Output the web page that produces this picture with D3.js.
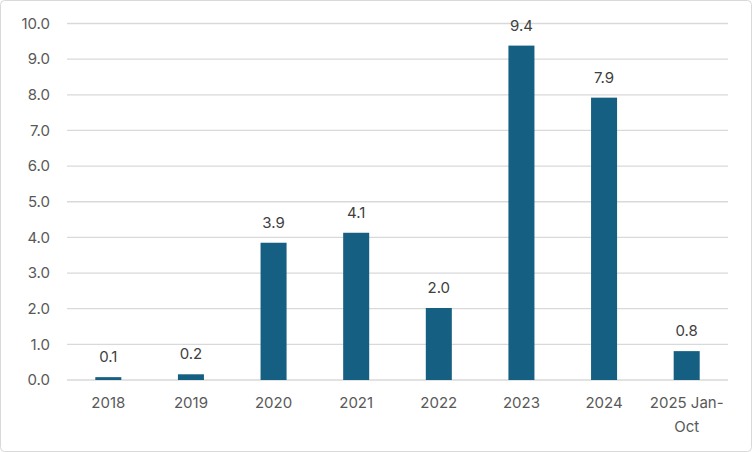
<!DOCTYPE html>
<html>
<head>
<meta charset="utf-8">
<script src="https://cdn.jsdelivr.net/npm/d3@7"></script>
<style>
  body { margin: 0; background: #fff; }
  svg { display: block; font-family: Inter, "Open Sans", sans-serif; }
</style>
</head>
<body>
<script>
// values (labels show one decimal)
const categories = ["2018", "2019", "2020", "2021", "2022", "2023", "2024", "2025 Jan-Oct"];
const values = [0.08, 0.16, 3.85, 4.13, 2.02, 9.38, 7.92, 0.81];
const yTicks = [0, 1, 2, 3, 4, 5, 6, 7, 8, 9, 10];

const W = 752, H = 452;
const margin = { top: 23.5, right: 24, bottom: 72, left: 67 };
const width = W - margin.left - margin.right,
    height = H - margin.top - margin.bottom;

const svg = d3.select("body").append("svg")
    .attr("width", W)
    .attr("height", H);

svg.append("rect")
    .attr("x", 0.5).attr("y", 0.5)
    .attr("width", W - 1).attr("height", H - 1)
    .attr("rx", 4)
    .attr("fill", "#fff")
    .attr("stroke", "#d9d9d9");

const g = svg.append("g")
    .attr("transform", "translate(" + margin.left + "," + margin.top + ")");

const x = d3.scaleBand()
    .domain(categories)
    .range([0, width])
    .paddingInner(0.685)
    .paddingOuter(0.3425);

const y = d3.scaleLinear()
    .domain([0, 10])
    .range([height, 0]);

// gridlines
g.append("g")
    .selectAll("line")
    .data(yTicks)
    .enter()
    .append("line")
    .attr("x1", 0).attr("x2", width)
    .attr("y1", d => y(d)).attr("y2", d => y(d))
    .attr("stroke", "#d9d9d9")
    .attr("stroke-width", 1.3);

// y axis labels
const yAxis = g.append("g")
    .call(d3.axisLeft(y).tickValues(yTicks).tickFormat(d3.format(".1f")).tickSize(0).tickPadding(17));
yAxis.select(".domain").remove();
yAxis.selectAll("text")
    .attr("fill", "#595959")
    .style("font-size", "15px")
    .style("font-family", "Inter, 'Open Sans', sans-serif");

// x axis labels
const xAxis = g.append("g")
    .attr("transform", "translate(0," + height + ")")
    .call(d3.axisBottom(x).tickSize(0).tickPadding(17));
xAxis.select(".domain").remove();
xAxis.selectAll("text")
    .attr("fill", "#595959")
    .style("font-size", "15px")
    .style("font-family", "Inter, 'Open Sans', sans-serif")
    .each(function (d) {
        if (d === "2025 Jan-Oct") {
            const t = d3.select(this).text(null);
            t.append("tspan").attr("x", 0).attr("dy", "0.71em").text("2025 Jan-");
            t.append("tspan").attr("x", 0).attr("dy", "1.6em").text("Oct");
            t.attr("dy", null);
        }
    });

// bars
g.selectAll(".bar")
    .data(values)
    .enter()
    .append("rect")
    .attr("class", "bar")
    .attr("x", (d, i) => x(categories[i]))
    .attr("y", d => y(d))
    .attr("width", x.bandwidth())
    .attr("height", d => height - y(d))
    .attr("fill", "#156082");

// data labels
g.selectAll(".lbl")
    .data(values)
    .enter()
    .append("text")
    .attr("class", "lbl")
    .attr("x", (d, i) => x(categories[i]) + x.bandwidth() / 2)
    .attr("y", d => y(d) - 15)
    .attr("text-anchor", "middle")
    .attr("fill", "#404040")
    .style("font-size", "15px")
    .text(d => d3.format(".1f")(d));
</script>
</body>
</html>
